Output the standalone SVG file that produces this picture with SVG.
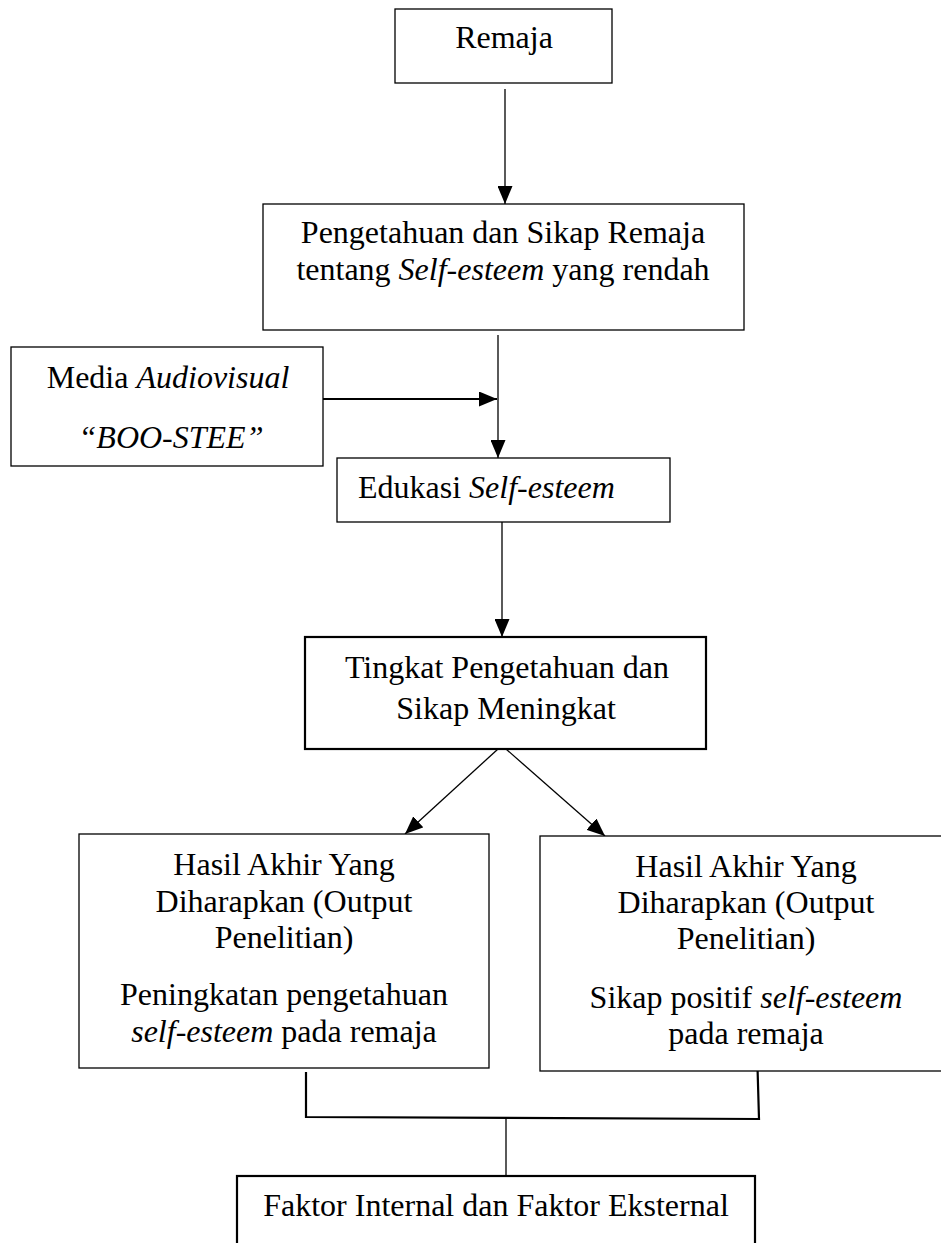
<svg xmlns="http://www.w3.org/2000/svg" width="941" height="1243" viewBox="0 0 941 1243">
<style>
  .box { fill: #ffffff; stroke: #000000; stroke-width: 1.3; }
  .thick { stroke-width: 2.2; }
  .t { font-family: "Liberation Serif", "Times New Roman", serif; font-size: 32px; fill: #000000; }
  .c { text-anchor: middle; }
  .i { font-style: italic; }
  .conn { fill: none; stroke: #000000; stroke-width: 1.3; }
  .conn2 { fill: none; stroke: #000000; stroke-width: 2.2; }
</style>
<defs>
  <marker id="ah" markerUnits="userSpaceOnUse" markerWidth="18" markerHeight="15" refX="18" refY="7.5" orient="auto" viewBox="0 0 18 15">
    <path d="M0,0 L18,7.5 L0,15 Z" fill="#000000"/>
  </marker>
</defs>
<rect width="941" height="1243" fill="#ffffff"/>

<g id="connectors">
  <line class="conn" x1="505" y1="89" x2="505" y2="204" marker-end="url(#ah)"/>
  <line class="conn" x1="498" y1="335" x2="498" y2="458" marker-end="url(#ah)"/>
  <line class="conn2" x1="323" y1="399" x2="497" y2="399" marker-end="url(#ah)"/>
  <line class="conn" x1="502" y1="522" x2="502" y2="637" marker-end="url(#ah)"/>
  <line class="conn" x1="498" y1="749" x2="405" y2="834" marker-end="url(#ah)"/>
  <line class="conn" x1="506" y1="749" x2="605" y2="836" marker-end="url(#ah)"/>
  <polyline class="conn2" points="306,1072 306,1117 759,1119 757.5,1067"/>
  <line class="conn" x1="506" y1="1118" x2="506" y2="1176"/>
</g>

<g id="node-remaja">
  <rect class="box" x="395" y="9" width="217" height="74"/>
  <text class="t c" x="504" y="48">Remaja</text>
</g>

<g id="node-pengetahuan">
  <rect class="box" x="263" y="204" width="481" height="126"/>
  <text class="t c" x="503" y="243">Pengetahuan dan Sikap Remaja</text>
  <text class="t c" x="503" y="280">tentang <tspan class="i">Self</tspan>-<tspan class="i">esteem</tspan> yang rendah</text>
</g>

<g id="node-media">
  <rect class="box" x="11" y="347" width="312" height="119"/>
  <text class="t c" x="168" y="388">Media <tspan class="i">Audiovisual</tspan></text>
  <text class="t c i" x="171" y="448">“BOO-STEE”</text>
</g>

<g id="node-edukasi">
  <rect class="box" x="337" y="458" width="333" height="64"/>
  <text class="t" x="358" y="498">Edukasi <tspan class="i">Self-esteem</tspan></text>
</g>

<g id="node-tingkat">
  <rect class="box thick" x="305" y="637" width="401" height="112"/>
  <text class="t c" x="507" y="678">Tingkat Pengetahuan dan</text>
  <text class="t c" x="506" y="719">Sikap Meningkat</text>
</g>

<g id="node-hasil-kiri">
  <rect class="box" x="79" y="834" width="410" height="234"/>
  <text class="t c" x="284" y="875">Hasil Akhir Yang</text>
  <text class="t c" x="284" y="912">Diharapkan (Output</text>
  <text class="t c" x="284" y="948">Penelitian)</text>
  <text class="t c" x="284" y="1005">Peningkatan pengetahuan</text>
  <text class="t c" x="284" y="1042"><tspan class="i">self-esteem</tspan> pada remaja</text>
</g>

<g id="node-hasil-kanan">
  <rect class="box" x="540" y="836" width="420" height="235"/>
  <text class="t c" x="746" y="877">Hasil Akhir Yang</text>
  <text class="t c" x="746" y="913">Diharapkan (Output</text>
  <text class="t c" x="746" y="949">Penelitian)</text>
  <text class="t c" x="746" y="1008">Sikap positif <tspan class="i">self-esteem</tspan></text>
  <text class="t c" x="746" y="1044">pada remaja</text>
</g>

<g id="node-faktor">
  <rect class="box thick" x="237" y="1176" width="518" height="90"/>
  <text class="t c" x="496" y="1216">Faktor Internal dan Faktor Eksternal</text>
</g>
</svg>
